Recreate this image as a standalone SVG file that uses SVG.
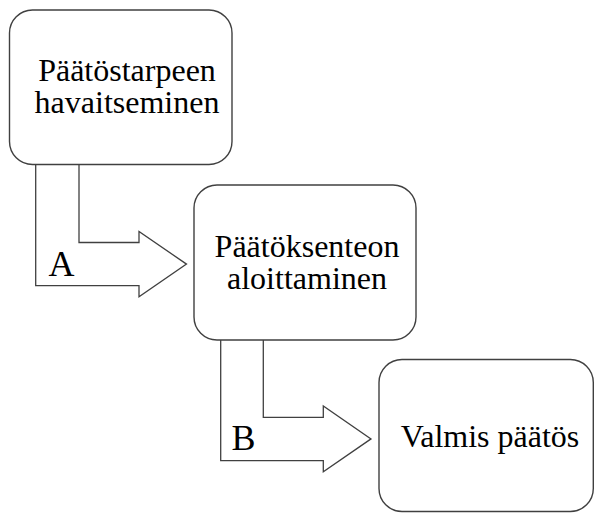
<svg xmlns="http://www.w3.org/2000/svg" width="595" height="514" viewBox="0 0 595 514">
  <style>
    .box { fill: #ffffff; stroke: #404040; stroke-width: 1.4; }
    .arrow { fill: #ffffff; stroke: #404040; stroke-width: 1.3; stroke-linejoin: miter; }
    .txt { font-family: 'Liberation Serif', 'Times New Roman', serif; font-size: 32px; fill: #000000; text-anchor: middle; }
    .lbl { font-family: 'Liberation Serif', 'Times New Roman', serif; font-size: 36px; fill: #000000; }
  </style>
  <rect width="595" height="514" fill="#ffffff"/>

  <!-- connectors: wide block arrows between the steps -->
  <g id="connectors">
    <path class="arrow" d="M35.7,164.5 V285.7 H139 V296.8 L186.5,264.1 L139,231.5 V242.5 H79 V164.5"/>
    <text class="lbl" x="48.5" y="276">A</text>
    <path class="arrow" d="M220.7,340 V460.7 H323.3 V471.8 L371,438.9 L323.3,406 V417.3 H263.3 V340"/>
    <text class="lbl" x="231.5" y="450">B</text>
  </g>

  <g id="node-havaitseminen">
    <rect class="box" x="9.5" y="10" width="222.5" height="154.5" rx="23" ry="23"/>
    <text class="txt" x="127" y="81">Päätöstarpeen</text>
    <text class="txt" x="127" y="112.5">havaitseminen</text>
  </g>

  <g id="node-aloittaminen">
    <rect class="box" x="194" y="185" width="222" height="155" rx="23" ry="23"/>
    <text class="txt" x="307" y="257">Päätöksenteon</text>
    <text class="txt" x="307" y="288.5">aloittaminen</text>
  </g>

  <g id="node-valmis">
    <rect class="box" x="379" y="359.5" width="214.3" height="152" rx="23" ry="23"/>
    <text class="txt" x="490" y="446.5">Valmis päätös</text>
  </g>
</svg>
